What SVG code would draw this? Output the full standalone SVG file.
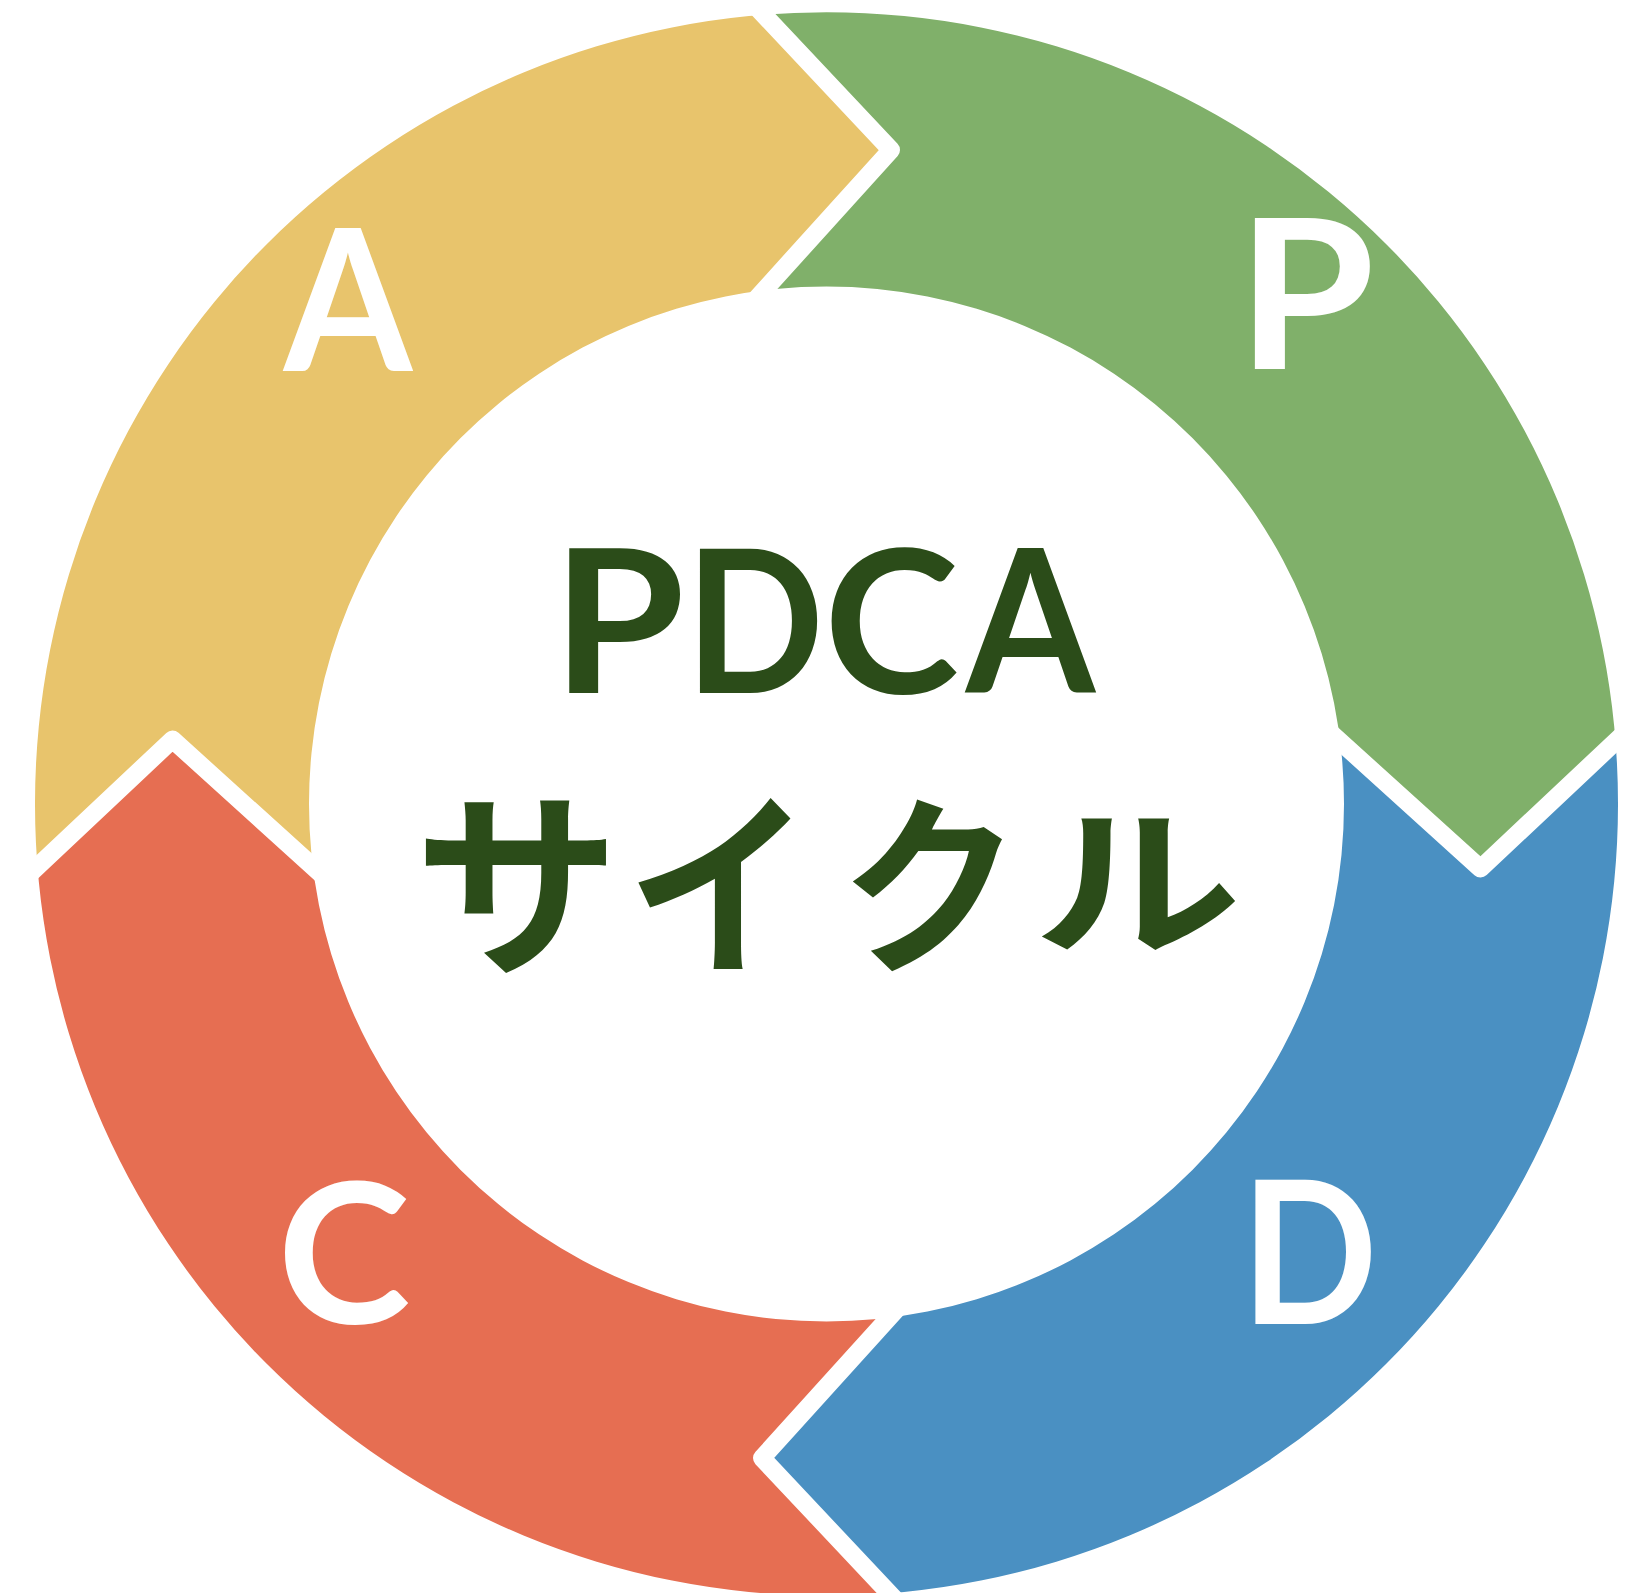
<svg xmlns="http://www.w3.org/2000/svg" width="1641" height="1593" viewBox="0 0 1641 1593">
  <style>
    .seg-label { font-family: Lato, "Noto Sans", "Liberation Sans", sans-serif; font-weight: 700; fill: #ffffff; font-size: 209px; text-anchor: middle; }
    .title-en { font-family: Lato, "Noto Sans", "Liberation Sans", sans-serif; font-weight: 700; fill: #2b4c19; text-anchor: middle; font-size: 199px; }
    .title-jp { font-family: "Noto Sans CJK JP", "Noto Sans", sans-serif; font-weight: 700; fill: #2b4c19; text-anchor: middle; font-size: 200px; }
    .sep { fill: none; stroke: #ffffff; stroke-width: 18; stroke-linejoin: round; stroke-linecap: butt; }
  </style>
  <defs>
    <clipPath id="ring">
      <path clip-rule="evenodd" d="M35,804 A791.5,791.5 0 1 0 1618,804 A791.5,791.5 0 1 0 35,804 Z M309,804 A517.5,517.5 0 1 0 1344,804 A517.5,517.5 0 1 0 309,804 Z"/>
    </clipPath>
  </defs>
  <rect width="1641" height="1593" fill="#ffffff"/>

  <g clip-path="url(#ring)">
    <g id="node-P">
      <path fill="#80b06a" d="M826.5,804 L700.5,360.5 L891,150 L700.5,-52.5 L1700,-60 L1683,678 L1480.5,868.5 L1270,678 Z"/>
    </g>
    <g id="node-D">
      <path fill="#4a90c2" d="M826.5,804 L1270,678 L1480.5,868.5 L1683,678 L1700,1700 L952.5,1660.5 L762,1458 L952.5,1247.5 Z"/>
    </g>
    <g id="node-C">
      <path fill="#e66e52" d="M826.5,804 L952.5,1247.5 L762,1458 L952.5,1660.5 L-60,1700 L-30,930 L172.5,739.5 L383,930 Z"/>
    </g>
    <g id="node-A">
      <path fill="#e8c46c" d="M826.5,804 L383,930 L172.5,739.5 L-30,930 L-60,-60 L700.5,-52.5 L891,150 L700.5,360.5 Z"/>
    </g>
  </g>

  <g id="connectors">
    <polyline class="sep" points="700.5,-52.5 891,150 700.5,360.5"/>
    <polyline class="sep" points="1683,678 1480.5,868.5 1270,678"/>
    <polyline class="sep" points="952.5,1660.5 762,1458 952.5,1247.5"/>
    <polyline class="sep" points="-30,930 172.5,739.5 383,930"/>
  </g>

  <g id="labels">
    <text class="seg-label" transform="translate(1306,369) scale(1.065,1)">P</text>
    <text class="seg-label" transform="translate(1309.4,1324) scale(0.86,0.951)">D</text>
    <text class="seg-label" transform="translate(344,1323.4) scale(0.964,0.94)">C</text>
    <text class="seg-label" transform="translate(348,370.5) scale(0.885,0.944)">A</text>
  </g>

  <g id="title">
    <text class="title-en" transform="translate(618.4,692.7) scale(1.078,1)">P</text>
    <text class="title-en" transform="translate(754.6,692.7) scale(0.917,1)">D</text>
    <text class="title-en" transform="translate(891.5,692.7) scale(1.028,1)">C</text>
    <text class="title-en" transform="translate(1030.5,692.7) scale(0.936,1)">A</text>
    <text class="title-jp" transform="translate(517,960) scale(1.03,1)">サ</text>
    <text class="title-jp" transform="translate(719,960) scale(0.92,1)">イ</text>
    <text class="title-jp" transform="translate(930.3,958) scale(0.9,0.955)">ク</text>
    <text class="title-jp" transform="translate(1137.5,943) scale(1.04,0.81)">ル</text>
  </g>
</svg>
